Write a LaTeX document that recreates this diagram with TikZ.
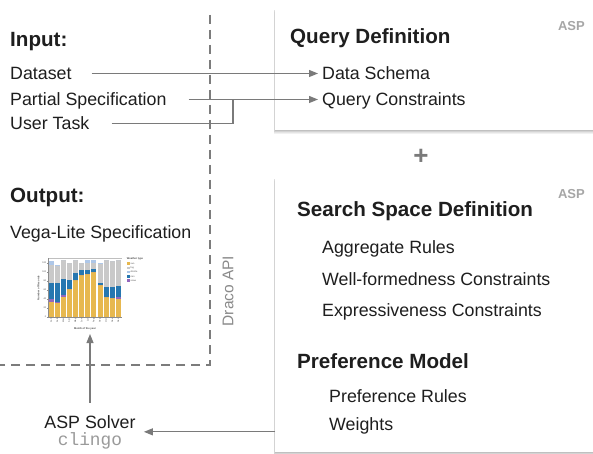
\documentclass[tikz,border=0pt]{standalone}
\usepackage{fontspec}
\setmainfont{Liberation Sans}
\setmonofont{Liberation Mono}
\usetikzlibrary{arrows.meta,calc,fit}
\definecolor{textc}{HTML}{1E1E1E}
\definecolor{linegray}{HTML}{7A7A7A}
\definecolor{dashgray}{HTML}{7C7C7C}
\definecolor{aspgray}{HTML}{A6A6A6}
\definecolor{monogray}{HTML}{9A9A9A}
\definecolor{apigray}{HTML}{8A8A8A}
\definecolor{csun}{HTML}{E7B84F}
\definecolor{csnow}{HTML}{9467BD}
\definecolor{crain}{HTML}{2677B0}
\definecolor{cfog}{HTML}{C9C9C9}
\definecolor{cdriz}{HTML}{AEC7E8}
\begin{document}
\begin{tikzpicture}[x=1pt,y=-1pt,
  txt/.style={font=\fontsize{17.8}{21}\selectfont, text=textc, inner sep=0pt, text height=13pt, text depth=0pt, anchor=base west},
  head/.style={txt, font=\fontsize{20.6}{24}\selectfont\bfseries},
  asp/.style={font=\fontsize{13}{15}\selectfont\bfseries, text=aspgray, inner sep=0pt, anchor=base east},
  plusmark/.style={font=\fontsize{26}{28}\selectfont\bfseries, text=linegray, inner sep=0pt},
  conn/.style={draw=linegray, line width=1.1pt},
  arr/.style={conn, -{Triangle[length=9pt,width=7pt]}},
  box/.style={fill=white, minimum width=330pt, inner sep=0pt, anchor=north west},
  dashline/.style={draw=dashgray, line width=2.4pt, dash pattern=on 9pt off 6pt},
  tinyt/.style={font=\fontsize{2.3}{2.6}\selectfont, text=black!70, inner sep=0.2pt},
]
\useasboundingbox (0,0) rectangle (593,454);
\fill[white] (0,0) rectangle (593,454);

% dashed boundary of the Draco API
\draw[dashline] (210,15) -- (210,365) -- (0,365);
\node[rotate=90, font=\fontsize{15.5}{18}\selectfont, text=apigray, inner sep=0pt] (api) at (228,291) {Draco API};

% soft shadows of the two boxes
\foreach \d/\o in {1/0.09,2/0.07,3/0.05,4/0.035,5/0.02} {
  \fill[black, opacity=\o] (275-\d*0.3, 8+\d*0.8) rectangle (600, 130+\d*0.9);
  \fill[black, opacity=\o] (275-\d*0.3, 177+\d*0.8) rectangle (600, 452+\d*0.9);
}
\node[box, minimum height=122pt] (qbox) at (275,8) {};
\node[box, minimum height=275pt] (sbox) at (275,177) {};

% left side texts
\node[head] (input) at (10,47) {Input:};
\node[txt] (dataset) at (10,80) {Dataset};
\node[txt] (partial) at (10,106) {Partial Specification};
\node[txt] (task) at (10,130) {User Task};
\node[head] (output) at (10,202) {Output:};
\node[txt] (vega) at (10,238) {Vega-Lite Specification};

% query definition box
\node[asp] (asp1) at (585,31) {ASP};
\node[head] (qdef) at (290,44) {Query Definition};
\node[txt] (schema) at (322,80) {Data Schema};
\node[txt] (qcons) at (322,106) {Query Constraints};

\node[plusmark] (plus) at (421,157) {+};

% search space box
\node[asp] (asp2) at (585,198) {ASP};
\node[head] (ssd) at (297,216) {Search Space Definition};
\node[txt] (agg) at (322,253) {Aggregate Rules};
\node[txt] (wf) at (322,285) {Well-formedness Constraints};
\node[txt] (expr) at (322,316) {Expressiveness Constraints};
\node[head] (pm) at (297,368) {Preference Model};
\node[txt] (prules) at (329,402) {Preference Rules};
\node[txt] (weights) at (329,430) {Weights};

% solver
\node[txt, anchor=base] (solver) at (90,428) {ASP Solver};
\node[font=\fontsize{17.8}{21}\ttfamily\selectfont, text=monogray, inner sep=0pt, anchor=base] (clingo) at (90,445) {clingo};
\node[fit=(solver)(clingo), inner sep=0pt] (solvergrp) {};

% chart (small stacked bar chart)
\coordinate (chartbot) at (90,334);
\draw[black!25, line width=0.6pt] (48,258) -- (121.5,258);
\foreach \i/\a/\b/\c/\d/\e in {1/33/40/76/115/124, 2/31/33/74/114/116, 3/44/49/84/125/125, 4/61/61/82/120/120,
  5/82/82/97/125/125, 6/92/92/103/120/120, 7/96/96/103/119/125, 8/99/99/107/120/125,
  9/71/71/74/118/120, 10/44/44/66/125/125, 11/42/42/66/123/123, 12/40/44/68/125/125} {
  \pgfmathsetmacro\xl{48+(\i-1)*6.125+0.6}
  \pgfmathsetmacro\xr{\xl+4.9}
  \fill[csun] (\xl,316.7) rectangle (\xr,316.7-\a*0.45);
  \fill[csnow] (\xl,316.7-\a*0.45) rectangle (\xr,316.7-\b*0.45);
  \fill[crain] (\xl,316.7-\b*0.45) rectangle (\xr,316.7-\c*0.45);
  \fill[cfog] (\xl,316.7-\c*0.45) rectangle (\xr,316.7-\d*0.45);
  \fill[cdriz] (\xl,316.7-\d*0.45) rectangle (\xr,316.7-\e*0.45);
}
\draw[black!45, line width=0.3pt] (48,258) -- (48,316.7) -- (121.5,316.7);
\foreach \v in {0,20,...,120} {
  \draw[black!45, line width=0.3pt] (46.8,316.7-\v*0.45) -- (48,316.7-\v*0.45);
  \node[tinyt, anchor=east] at (46.6,316.7-\v*0.45) {\v};
}
\foreach \m [count=\i] in {Jan,Feb,Mar,Apr,May,Jun,Jul,Aug,Sep,Oct,Nov,Dec} {
  \node[tinyt, rotate=90, anchor=east] at (48+\i*6.125-3.06,318.2) {\m};
}
\node[tinyt, font=\fontsize{2.6}{3}\selectfont\bfseries] (xtitle) at (85,328.5) {Month of the year};
\node[tinyt, font=\fontsize{2.6}{3}\selectfont\bfseries, rotate=90] (ytitle) at (38.5,288) {Number of Records};
\node[tinyt, font=\fontsize{2.6}{3}\selectfont\bfseries, anchor=west] (ltitle) at (126.5,258.8) {Weather type};
\foreach \c/\l [count=\k] in {csun/sun,cfog/fog,cdriz/drizzle,crain/rain,csnow/snow} {
  \fill[\c] (127,262.3+\k*4.2-4.2) rectangle (129.6,264.9+\k*4.2-4.2);
  \node[tinyt, anchor=west] at (130.3,263.6+\k*4.2-4.2) {\l};
}

% connectors
\draw[arr, shorten >=4pt] ([xshift=20pt]dataset.east) -- (schema.west);
\draw[arr, shorten >=4pt] ([xshift=22pt]partial.east) -- (qcons.west);
\coordinate (jx) at (233,0);
\draw[conn] ([xshift=22pt]task.east) -| (jx |- partial.east);
\draw[arr] (sbox.west |- solvergrp.east) -- ([xshift=8pt]solvergrp.east);
\draw[arr] ([yshift=12pt]solvergrp.north) -- (chartbot);
\end{tikzpicture}
\end{document}
